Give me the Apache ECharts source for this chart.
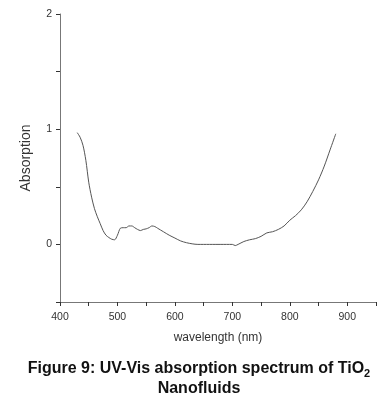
<!DOCTYPE html>
<html><head><meta charset="utf-8">
<script src="https://cdn.jsdelivr.net/npm/echarts@6/dist/echarts.min.js"></script>
<style>html,body{margin:0;padding:0;background:#fff}#c{width:382px;height:403px}</style>
</head><body><div id="c"></div>
<script>
const wavelengths = [430,435,440,445,450,455,460,465,470,475,480,485,490,495,500,505,510,515,520,525,530,535,540,545,550,555,560,565,570,580,590,600,610,620,630,640,650,660,670,680,690,700,705,710,720,730,740,750,760,770,780,790,800,810,820,830,840,850,860,870,880];
const absorption = [0.97,0.93,0.86,0.73,0.54,0.41,0.31,0.24,0.18,0.12,0.08,0.06,0.045,0.04,0.08,0.14,0.145,0.145,0.16,0.16,0.145,0.13,0.12,0.13,0.135,0.145,0.16,0.155,0.14,0.11,0.08,0.055,0.03,0.015,0.005,0,0,0,0,0,0,0,-0.01,0,0.025,0.04,0.05,0.07,0.1,0.11,0.13,0.16,0.21,0.25,0.30,0.37,0.46,0.56,0.68,0.82,0.96];
const xTickLabels = [400,500,600,700,800,900];
const yTickLabels = [0,1,2];

const chart = echarts.init(document.getElementById('c'));
const axisCol = '#777';
chart.setOption({
  animation: false,
  backgroundColor: '#fff',
  title: {
    text: 'Figure 9: UV-Vis absorption spectrum of TiO{sub|2}\nNanofluids',
    left: 194, top: 354, textAlign: 'center',
    textStyle: {
      fontFamily: 'Liberation Sans', fontWeight: 'bold', fontSize: 16, color: '#111', lineHeight: 20,
      rich: { sub: { fontFamily: 'Liberation Sans', fontWeight: 'bold', fontSize: 11, color: '#111', verticalAlign: 'bottom', padding: [6,0,0,0] } }
    }
  },
  grid: { left: 60, right: 6, top: 14, bottom: 101, containLabel: false },
  xAxis: {
    type: 'value', min: 400, max: 950, interval: 50,
    name: 'wavelength (nm)', nameLocation: 'middle', nameGap: 30,
    nameTextStyle: { fontFamily: 'Liberation Sans', fontSize: 12, color: '#333' },
    axisLine: { show: true, onZero: false, lineStyle: { color: axisCol, width: 1 } },
    axisTick: { show: true, inside: false, length: 4, lineStyle: { color: '#333' } },
    axisLabel: { fontFamily: 'Liberation Sans', fontSize: 10.5, color: '#333', margin: 10,
      formatter: v => xTickLabels.includes(v) ? String(v) : '' },
    splitLine: { show: false }
  },
  yAxis: {
    type: 'value', min: -0.5, max: 2, interval: 0.5,
    name: 'Absorption', nameLocation: 'middle', nameGap: 27, nameRotate: 90,
    nameTextStyle: { fontFamily: 'Liberation Sans', fontSize: 14, color: '#333' },
    axisLine: { show: true, onZero: false, lineStyle: { color: axisCol, width: 1 } },
    axisTick: { show: true, inside: false, length: 4, lineStyle: { color: '#333' } },
    axisLabel: { fontFamily: 'Liberation Sans', fontSize: 10.5, color: '#333', margin: 8,
      formatter: v => yTickLabels.includes(v) ? String(v) : '' },
    splitLine: { show: false }
  },
  series: [{
    type: 'line', smooth: 0.3, symbol: 'none',
    lineStyle: { color: '#555', width: 1 },
    data: wavelengths.map((w, i) => [w, absorption[i]])
  }]
});
</script></body></html>
